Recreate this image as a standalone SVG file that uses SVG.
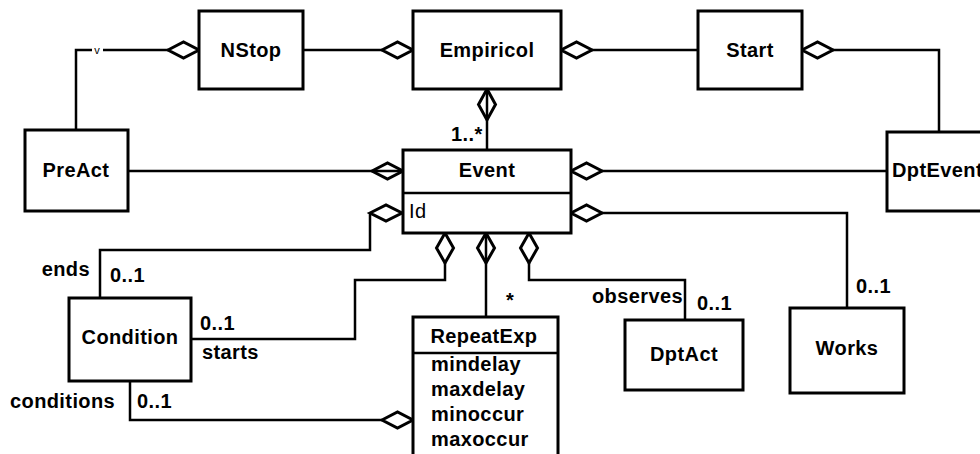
<svg xmlns="http://www.w3.org/2000/svg" width="980" height="454" viewBox="0 0 980 454">
  <style>
    .box { fill: #fff; stroke: #000; stroke-width: 3; }
    .sep { stroke: #000; stroke-width: 2.5; }
    .wire { fill: none; stroke: #000; stroke-width: 2.5; stroke-linejoin: miter; }
    .dia { fill: #fff; stroke: #000; stroke-width: 3; stroke-linejoin: miter; }
    text { font-family: "Liberation Sans", Arial, sans-serif; font-size: 20px; font-weight: bold; letter-spacing: 0.4px; fill: #000; }
    .c { text-anchor: middle; }
    .e { text-anchor: end; }
    .plain { font-weight: normal; }
    .tiny { font-weight: normal; font-size: 11px; letter-spacing: 0; }
  </style>
  <rect width="980" height="454" fill="#fff"/>

  <!-- connectors -->
  <g id="connectors">
    <!-- PreAct to NStop -->
    <polyline class="wire" points="76,130 76,50 92,50"/>
    <line class="wire" x1="103" y1="50" x2="168" y2="50"/>
    <text class="tiny c" x="97" y="54">v</text>
    <polygon class="dia" points="168,50 183.5,42 199,50 183.5,58"/>

    <!-- NStop to Empiricol -->
    <line class="wire" x1="303" y1="50" x2="382" y2="50"/>
    <polygon class="dia" points="382,50 397.5,42 413,50 397.5,58"/>

    <!-- Empiricol to Start -->
    <line class="wire" x1="592" y1="50" x2="698" y2="50"/>
    <polygon class="dia" points="561,50 576.5,42 592,50 576.5,58"/>

    <!-- Start to DptEvent -->
    <polyline class="wire" points="833,50 939,50 939,132"/>
    <polygon class="dia" points="802,50 817.5,42 833,50 817.5,58"/>

    <!-- Empiricol to Event -->
    <polygon class="dia" points="487,89 495.5,104.5 487,120 478.5,104.5"/>
    <line class="wire" x1="487" y1="89" x2="487" y2="150"/>
    <text x="451" y="141">1..*</text>

    <!-- PreAct to Event -->
    <polygon class="dia" points="372,171 387.5,163 403,171 387.5,179"/>
    <line class="wire" x1="128" y1="171" x2="403" y2="171"/>

    <!-- Event to DptEvent -->
    <polygon class="dia" points="571,171 586.5,163 602,171 586.5,179"/>
    <line class="wire" x1="602" y1="171" x2="887" y2="171"/>

    <!-- Condition ends -->
    <polyline class="wire" points="100,298 100,250 370,250 370,213"/>
    <polygon class="dia" points="370,213 386,205 402,213 386,221"/>
    <text class="e" x="90" y="276">ends</text>
    <text x="110" y="282">0..1</text>

    <!-- Event to Works -->
    <polyline class="wire" points="602,213 847,213 847,308"/>
    <polygon class="dia" points="571,213 586.5,205 602,213 586.5,221"/>
    <text x="856" y="293">0..1</text>

    <!-- Condition starts -->
    <polyline class="wire" points="191,339 355,339 355,280 445,280 445,263"/>
    <polygon class="dia" points="445,233 453.5,248 445,263 436.5,248"/>
    <text x="200" y="330">0..1</text>
    <text x="202" y="359">starts</text>

    <!-- Event to RepeatExp -->
    <polygon class="dia" points="486,233 494.5,248 486,263 477.5,248"/>
    <line class="wire" x1="486" y1="233" x2="486" y2="317"/>
    <text x="506" y="307">*</text>

    <!-- Event observes DptAct -->
    <polyline class="wire" points="529,263 529,280 685,280 685,320"/>
    <polygon class="dia" points="529,233 537.5,248 529,263 520.5,248"/>
    <text class="e" x="683" y="303">observes</text>
    <text x="697" y="310">0..1</text>

    <!-- RepeatExp conditions -->
    <polyline class="wire" points="130,381 130,420 382,420"/>
    <polygon class="dia" points="382,420 397.5,412 413,420 397.5,428"/>
    <text x="10" y="408">conditions</text>
    <text x="137" y="408">0..1</text>
  </g>

  <!-- nodes -->
  <g id="nstop">
    <rect class="box" x="199" y="11" width="104" height="78"/>
    <text class="c" x="251" y="57">NStop</text>
  </g>
  <g id="empiricol">
    <rect class="box" x="413" y="11" width="148" height="78"/>
    <text class="c" x="487" y="57">Empiricol</text>
  </g>
  <g id="start">
    <rect class="box" x="698" y="11" width="104" height="78"/>
    <text class="c" x="750" y="57">Start</text>
  </g>
  <g id="preact">
    <rect class="box" x="25" y="130" width="103" height="81"/>
    <text class="c" x="76" y="177">PreAct</text>
  </g>
  <g id="event">
    <rect class="box" x="403" y="150" width="168" height="83"/>
    <line class="sep" x1="403" y1="193" x2="571" y2="193"/>
    <text class="c" x="487" y="177">Event</text>
    <text class="plain" x="409" y="218">Id</text>
  </g>
  <g id="dptevent">
    <rect class="box" x="887" y="132" width="120" height="79"/>
    <text x="892" y="177">DptEvent</text>
  </g>
  <g id="condition">
    <rect class="box" x="69" y="298" width="122" height="83"/>
    <text class="c" x="130" y="344">Condition</text>
  </g>
  <g id="repeatexp">
    <rect class="box" x="413" y="317" width="145" height="150"/>
    <line class="sep" x1="413" y1="353" x2="558" y2="353"/>
    <text class="c" x="484" y="343">RepeatExp</text>
    <text x="431" y="371">mindelay</text>
    <text x="431" y="396">maxdelay</text>
    <text x="431" y="421">minoccur</text>
    <text x="431" y="446">maxoccur</text>
  </g>
  <g id="dptact">
    <rect class="box" x="625" y="320" width="118" height="70"/>
    <text class="c" x="684" y="361">DptAct</text>
  </g>
  <g id="works">
    <rect class="box" x="790" y="308" width="114" height="85"/>
    <text class="c" x="847" y="355">Works</text>
  </g>
</svg>
